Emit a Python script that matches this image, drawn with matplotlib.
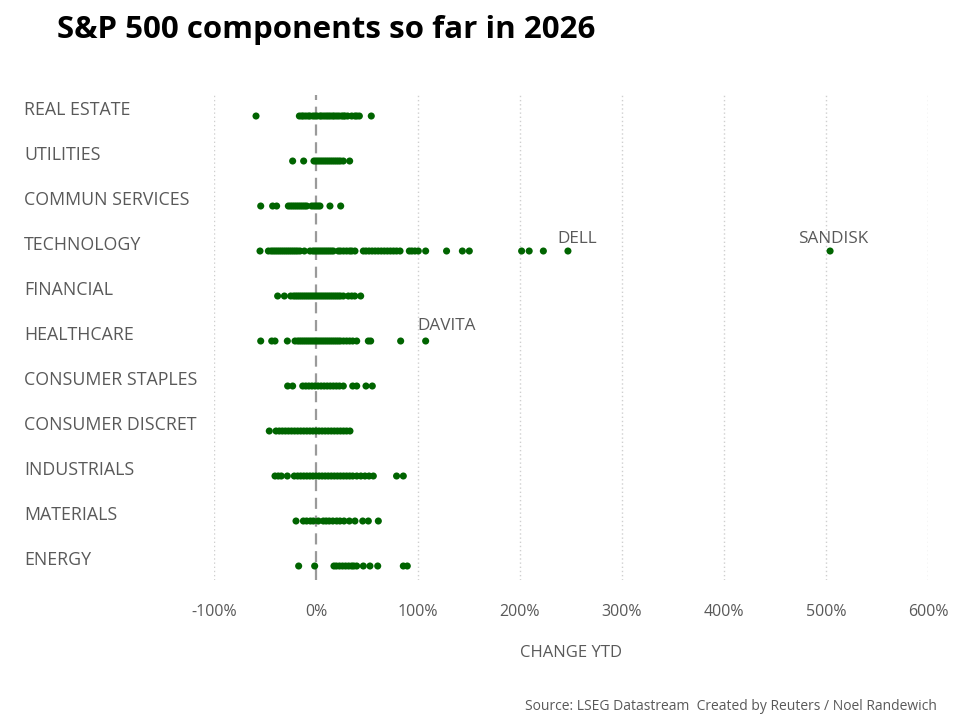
import matplotlib
matplotlib.use("Agg")
import matplotlib.pyplot as plt
import matplotlib.transforms as mtransforms

sectors = ["REAL ESTATE", "UTILITIES", "COMMUN SERVICES", "TECHNOLOGY", "FINANCIAL",
           "HEALTHCARE", "CONSUMER STAPLES", "CONSUMER DISCRET", "INDUSTRIALS",
           "MATERIALS", "ENERGY"]

real_estate = [-58.8, -16.3, -14, -12.4, -10, -7.5, -5.9, -3, -1, 1, 3.9, 5.5, 7.8, 10, 12, 14,
               16.3, 18, 20.3, 22.5, 25.2, 27, 28.4, 31, 35, 38.2, 40, 42.5, 54.2]
utilities = [-22.9, -12.1, -2, 0, 2, 4, 6, 8, 10, 12, 14, 16, 18, 20, 22, 24, 26.8, 33]
commun_services = [-54.2, -42.5, -38.6, -27.1, -25, -23, -21, -19, -17, -15, -13, -11, -9.1,
                   -4.2, -2, 0, 2, 3.9, 13.7, 24.2]
technology = [-54.9, -46.7, -44, -42, -40, -38, -36, -34, -32, -30, -28, -26, -24, -22, -20,
              -18, -15.7, -11.4, -5.9, -3, -1, 1, 3, 5, 7, 9, 11, 13, 15, 17, 21.9, 24, 27,
              30, 33, 35, 38.2, 46.4, 49, 52, 55, 58, 61, 64, 67, 70, 73, 76, 79, 82.4, 91.5,
              94, 97, 100.3, 107.5, 128, 143.5, 150.3, 201.6, 209, 222.9, 247, 504]
financial = [-37.6, -31, -24.8, -22, -20, -18, -16, -14, -12, -10, -8, -6, -4, -2, 0, 2, 4, 6,
             8, 10, 12, 14, 16, 18, 20, 22, 24, 26.8, 31.7, 35, 38, 43.8]
healthcare = [-54.2, -43.4, -40.2, -28.1, -20.6, -18, -16, -14, -12, -10, -8, -6, -4, -2, 0, 2,
              4, 6, 8, 10, 12, 14, 16, 18, 20, 22, 24, 27, 30, 33, 36, 39.9, 51.3, 53.6, 83,
              107.5]
consumer_staples = [-27.8, -22.9, -13, -10, -7, -4, -1, 2, 5, 8, 11, 14, 17, 20, 23, 26.8, 36,
                    39.9, 49, 55.2]
consumer_discret = [-45.8, -39.2, -36, -33, -30, -27, -24, -21, -18, -15, -12, -9, -6, -3, 0, 3,
                    6, 9, 12, 15, 18, 21, 24, 27, 30, 33.3]
industrials = [-40.2, -37, -34, -28.1, -21.3, -18, -15, -12, -9, -6, -3, 0, 3, 6, 9, 12, 15,
               18, 21, 24, 27, 30, 33, 36, 40, 44, 48, 52, 56.2, 79, 85.6]
materials = [-19.6, -12.4, -9.2, -5.5, -2.6, 2.3, 7.2, 10, 13, 16.5, 20.3, 23.5, 27.5, 32.7,
             38.2, 45.8, 51.3, 61.1]
energy = [-17, -1.3, 17.6, 20, 23, 26, 29, 32, 35, 37, 39.9, 46.4, 52.9, 60.5, 85.6, 89.5]

series = [real_estate, utilities, commun_services, technology, financial, healthcare,
          consumer_staples, consumer_discret, industrials, materials, energy]

labelled_names = ["DELL", "SANDISK", "DAVITA"]
labelled_rows = [3, 3, 5]
labelled_values = [247, 504, 107.5]

x_ticks = [-100, 0, 100, 200, 300, 400, 500, 600]
x_ticklabels = ["-100%", "0%", "100%", "200%", "300%", "400%", "500%", "600%"]

FONT = ["Open Sans", "DejaVu Sans"]
plt.rcParams["font.family"] = FONT
GREY = "#595959"
GREEN = "#006400"

W, H = 958, 718
fig = plt.figure(figsize=(W / 100, H / 100), dpi=100)
ax = fig.add_axes([214 / W, 1 - 580 / H, 714 / W, 485 / H])

for i, vals in enumerate(series):
    ax.scatter(vals, [i] * len(vals), s=26, color=GREEN, edgecolors="none", zorder=3)

ax.set_xlim(-100, 600)
ax.set_ylim(10.311, -0.467)

for xv in x_ticks:
    if xv == 0:
        continue
    ax.axvline(xv, color="#cfcfcf", lw=1, ls=(0, (1, 2)), zorder=1)
ax.axvline(0, color="#9a9a9a", lw=1.6, ls=(0, (5, 3)), zorder=2)

ax.set_xticks(x_ticks)
ax.set_xticklabels(x_ticklabels, fontsize=11.5, color=GREY)
ax.tick_params(axis="x", length=0, pad=17)
ax.set_yticks([])
for sp in ax.spines.values():
    sp.set_visible(False)

trans = mtransforms.blended_transform_factory(fig.transFigure, ax.transData)
for i, name in enumerate(sectors):
    ax.text(24 / W, i - 6 / 45, name, transform=trans, ha="left", va="center",
            fontsize=12.8, color=GREY)

label_offsets = {"DELL": (-11, 12), "SANDISK": (-32, 12), "DAVITA": (-8, 15)}
for name, row, val in zip(labelled_names, labelled_rows, labelled_values):
    ax.annotate(name, (val, row), xytext=label_offsets[name],
                textcoords="offset pixels", ha="left", va="center", fontsize=12.3, color=GREY)

fig.text(57 / W, 1 - 30 / H, "S&P 500 components so far in 2026", ha="left", va="center",
         fontsize=22.5, fontweight="bold", color="black")
fig.text(571 / W, 1 - 653 / H, "CHANGE YTD", ha="center", va="center", fontsize=12,
         color=GREY)
fig.text(937 / W, 1 - 707 / H, "Source: LSEG Datastream  Created by Reuters / Noel Randewich",
         ha="right", va="center", fontsize=10, color=GREY,
         family=["Liberation Sans Narrow", "Open Sans", "DejaVu Sans"])

fig.savefig("out.png", dpi=100, facecolor="white")
